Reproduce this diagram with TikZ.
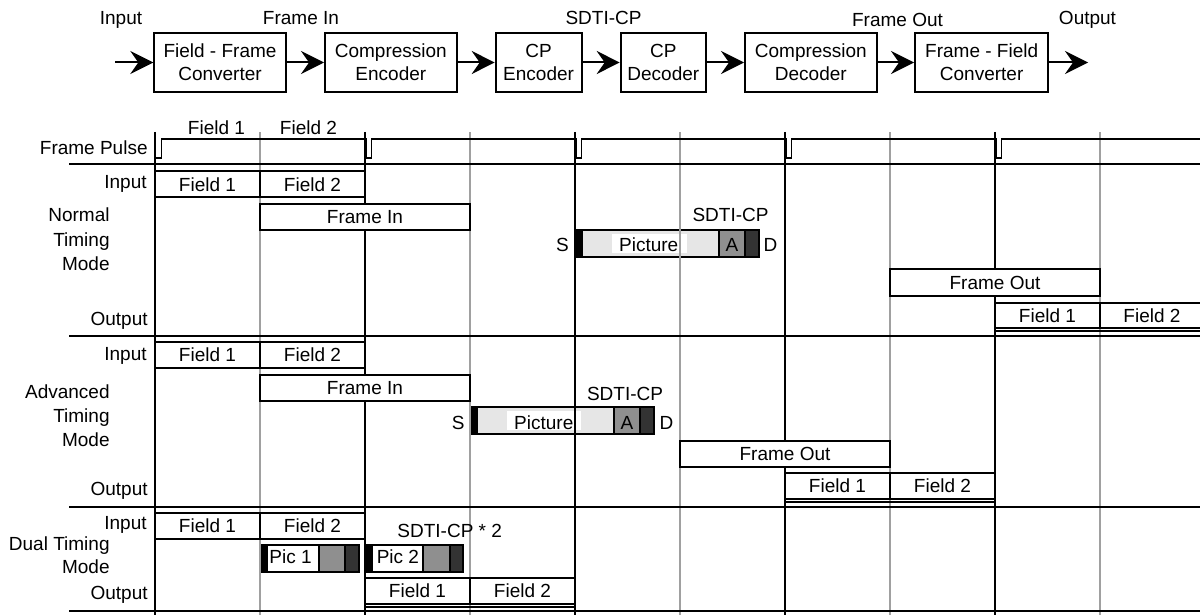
\documentclass[tikz,border=0pt]{standalone}
\usepackage{fontspec}
\setmainfont{Liberation Sans}
\usetikzlibrary{arrows.meta}
\definecolor{gridgray}{HTML}{A0A0A0}
\definecolor{piclight}{HTML}{E6E6E6}
\definecolor{audgray}{HTML}{8F8F8F}
\definecolor{datdark}{HTML}{333333}
\newcommand\fsz{\fontsize{9.5}{11.7}\selectfont}
\begin{document}
\begin{tikzpicture}[x=0.5pt,y=-0.5pt,
  txt/.style={inner sep=0pt,font=\fsz},
  lab/.style={txt,anchor=base east},
  ctr/.style={txt,anchor=base},
  blk/.style={draw,line width=1pt,align=center,inner sep=0pt,font=\fsz,minimum height=29.2pt},
  flow/.style={line width=1pt,-{Stealth[length=11.5pt,width=11.5pt,inset=4pt]}},
  tbox/.style={draw,fill=white,line width=0.9pt,inner sep=0pt,font=\fsz,minimum height=13pt},
  half/.style={tbox,minimum width=52.5pt},
  full/.style={tbox,minimum width=105pt},
  gk/.style={line width=0.75pt,black},
  gg/.style={line width=0.75pt,gridgray},
  sepline/.style={line width=1pt},
  pkt/.style={line width=0.9pt},
  pulse/.style={line width=0.75pt},
]
\useasboundingbox (0,0) rectangle (1200,615);

% ---------- block diagram ----------
\node[blk,minimum width=65.7pt] (b1) at (220,62.5) {Field - Frame\\Converter};
\node[blk,minimum width=65.85pt] (b2) at (390.85,62.5) {Compression\\Encoder};
\node[blk,minimum width=42.9pt] (b3) at (538.6,62.5) {CP\\Encoder};
\node[blk,minimum width=42.65pt] (b4) at (663.35,62.5) {CP\\Decoder};
\node[blk,minimum width=65.85pt] (b5) at (810.85,62.5) {Compression\\Decoder};
\node[blk,minimum width=66.65pt] (b6) at (981.65,62.5) {Frame - Field\\Converter};
\coordinate (fin) at (115,62.5);
\coordinate (fout) at (1088,62.5);
\draw[flow] (fin) -- (b1);
\draw[flow] (b1) -- (b2);
\draw[flow] (b2) -- (b3);
\draw[flow] (b3) -- (b4);
\draw[flow] (b4) -- (b5);
\draw[flow] (b5) -- (b6);
\draw[flow] (b6) -- (fout);
\node[ctr] (tIn) at (121,25) {Input};
\node[ctr] (tFrIn) at (301,25) {Frame In};
\node[ctr] (tSD) at (603.5,25) {SDTI-CP};
\node[ctr] (tFrOut) at (897.5,27) {Frame Out};
\node[ctr] (tOut) at (1087.5,25) {Output};

% ---------- packets ----------
% normal
\fill (574.5,230) rectangle (581.7,256.7);
\fill[piclight] (581.7,230) rectangle (719,256.7);
\fill[white] (612,234) rectangle (686.7,252.7);
\fill[audgray] (719,230) rectangle (745,256.7);
\fill[datdark] (745,230) rectangle (759,256.7);
\draw[pkt] (574.5,230) rectangle (759,256.7)
  (581.7,230) -- (581.7,256.7) (719,230) -- (719,256.7) (745,230) -- (745,256.7);
% advanced
\fill (469.5,407.3) rectangle (476.7,434);
\fill[piclight] (476.7,407.3) rectangle (614,434);
\fill[white] (507.3,411.3) rectangle (581,430);
\fill[audgray] (614,407.3) rectangle (640,434);
\fill[datdark] (640,407.3) rectangle (654,434);
\draw[pkt] (469.5,407.3) rectangle (654,434)
  (476.7,407.3) -- (476.7,434) (614,407.3) -- (614,434) (640,407.3) -- (640,434);
% dual
\fill (260,545) rectangle (266.7,571.7);
\fill[white] (266.7,545) rectangle (319,571.7);
\fill[audgray] (319,545) rectangle (345,571.7);
\fill[datdark] (345,545) rectangle (359,571.7);
\draw[pkt] (260,545) rectangle (359,571.7)
  (266.7,545) -- (266.7,571.7) (319,545) -- (319,571.7) (345,545) -- (345,571.7);
\fill (365,545) rectangle (372,571.7);
\fill[white] (372,545) rectangle (423.3,571.7);
\fill[audgray] (423.3,545) rectangle (450,571.7);
\fill[datdark] (450,545) rectangle (463.3,571.7);
\draw[pkt] (365,545) rectangle (463.3,571.7)
  (372,545) -- (372,571.7) (423.3,545) -- (423.3,571.7) (450,545) -- (450,571.7);

% ---------- grid ----------
\foreach \x in {260,470,680,890,1100} \draw[gg] (\x,132) -- (\x,615);
\foreach \x in {155,365,575,785,995} \draw[gk] (\x,132) -- (\x,615);
\foreach \y in {164.5,336,506.7,611} \draw[sepline] (69,\y) -- (1200,\y);

% frame pulse
\draw[pulse] (155,158) -- (161.5,158) -- (161.5,139) -- (366,139) -- (366,158)
  -- (371.5,158) -- (371.5,139) -- (576,139) -- (576,158)
  -- (581.5,158) -- (581.5,139) -- (786,139) -- (786,158)
  -- (791.5,158) -- (791.5,139) -- (996,139) -- (996,158)
  -- (1001.5,158) -- (1001.5,139) -- (1200,139);
\node[ctr] (pF1) at (216.5,135) {Field 1};
\node[ctr] (pF2) at (308.5,135) {Field 2};
\node[lab] (lPulse) at (148,155) {Frame Pulse};

% ---------- normal timing ----------
\node[half] (nIn1) at (207.5,184.25) {Field 1};
\node[half] (nIn2) at (312.5,184.25) {Field 2};
\node[full,minimum height=12.85pt] (nFrIn) at (365,217.15) {Frame In};
\node[full,minimum height=13.2pt] (nFrOut) at (995,282.5) {Frame Out};
\node[half,minimum height=12.8pt] (nOut1) at (1047.5,315.5) {Field 1};
\node[half,minimum height=12.8pt,minimum width=52pt] (nOut2) at (1152,315.5) {Field 2};
\draw[line width=0.75pt] (995,331.2) -- (1200,331.2);
\node[ctr] (nSD) at (730.5,221.7) {SDTI-CP};
\node[ctr] (nPic) at (648.7,251.7) {Picture};
\node[ctr] (nA) at (732,251.7) {A};
\node[lab] (nS) at (569.3,251.7) {S};
\node[txt,anchor=base west] (nD) at (763.3,251.7) {D};
\node[lab] (lnIn) at (147,188.3) {Input};
\node[lab] (lnOut) at (148,325) {Output};
\node[lab] (lnM1) at (110,221) {Normal};
\node[lab] (lnM2) at (110,246.7) {Timing};
\node[lab] (lnM3) at (110,270) {Mode};

% ---------- advanced timing ----------
\node[half] (aIn1) at (207.5,355) {Field 1};
\node[half] (aIn2) at (312.5,355) {Field 2};
\node[full] (aFrIn) at (365,388) {Frame In};
\node[full,minimum height=12.85pt] (aFrOut) at (785,453.85) {Frame Out};
\node[half,minimum height=12.85pt] (aOut1) at (837.5,486.15) {Field 1};
\node[half,minimum height=12.85pt] (aOut2) at (942.5,486.15) {Field 2};
\draw[line width=0.75pt] (785,501.8) -- (995,501.8);
\node[ctr] (aSD) at (625,400.7) {SDTI-CP};
\node[ctr] (aPic) at (543.8,429.3) {Picture};
\node[ctr] (aA) at (627,429.3) {A};
\node[lab] (aS) at (465,429.3) {S};
\node[txt,anchor=base west] (aD) at (659.3,429.3) {D};
\node[lab] (laIn) at (147,360) {Input};
\node[lab] (laOut) at (148,495) {Output};
\node[lab] (laM1) at (110,398.3) {Advanced};
\node[lab] (laM2) at (110,422.7) {Timing};
\node[lab] (laM3) at (110,446.7) {Mode};

% ---------- dual timing ----------
\node[half,minimum height=13.15pt] (dIn1) at (207.5,525.85) {Field 1};
\node[half,minimum height=13.15pt] (dIn2) at (312.5,525.85) {Field 2};
\node[half,minimum height=13.15pt] (dOut1) at (417.5,590.85) {Field 1};
\node[half,minimum height=13.15pt] (dOut2) at (522.5,590.85) {Field 2};
\draw[line width=0.75pt] (365,606.8) -- (575,606.8);
\node[ctr] (dSD) at (449.7,537.3) {SDTI-CP * 2};
\node[ctr] (dP1) at (290.5,563.3) {Pic 1};
\node[ctr] (dP2) at (397.9,563.3) {Pic 2};
\node[lab] (ldIn) at (147,529) {Input};
\node[lab] (ldOut) at (148,599.3) {Output};
\node[lab] (ldM1) at (110,550) {Dual Timing};
\node[lab] (ldM2) at (110,573.3) {Mode};
\end{tikzpicture}
\end{document}
